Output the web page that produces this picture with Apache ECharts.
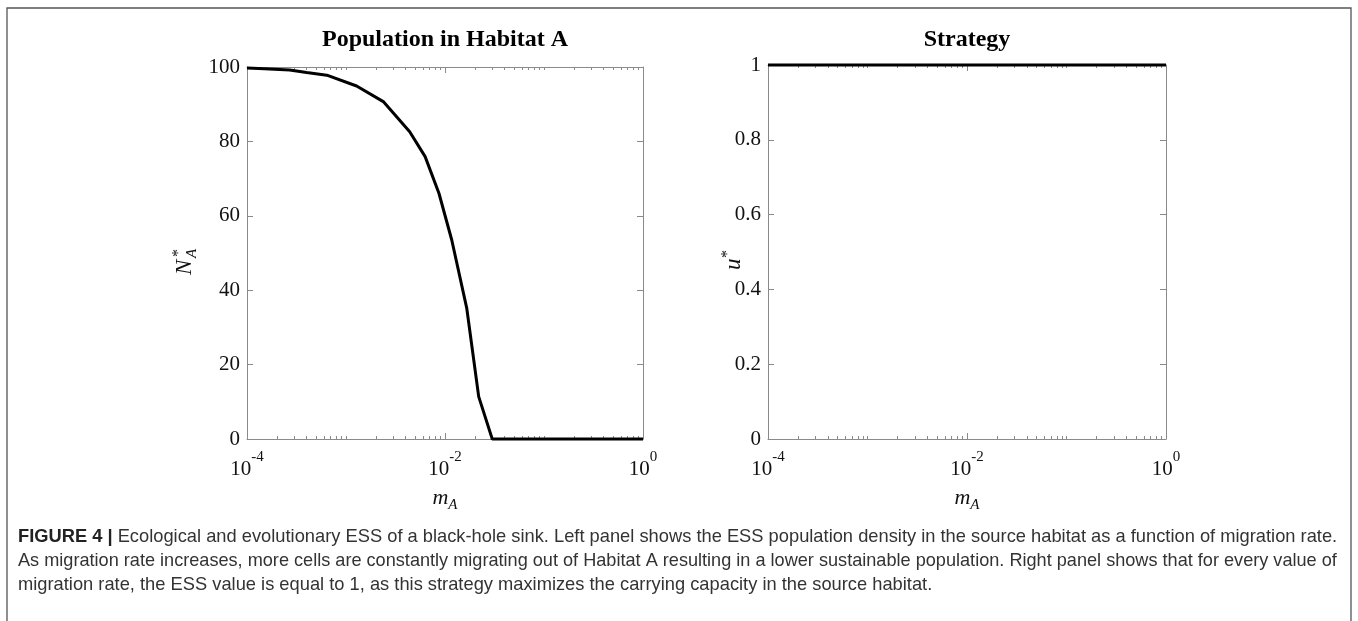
<!DOCTYPE html>
<html>
<head>
<meta charset="utf-8">
<script src="https://cdn.jsdelivr.net/npm/echarts@6/dist/echarts.min.js"></script>
<style>
html,body{margin:0;padding:0;background:#fff;}
#chart{width:1358px;height:621px;}
</style>
</head>
<body>
<div id="chart"></div>
<script>
// ---- data ----
var migrationRates = [0.0001, 0.00015, 0.00027, 0.0004, 0.00064, 0.00128, 0.00238, 0.0044, 0.0063, 0.0087, 0.0117, 0.0166, 0.0219, 0.030, 1];
var populationA   = [99.7, 99.5, 99.2, 98.5, 97.8, 94.9, 90.7, 82.6, 75.9, 66.0, 53.5, 35.1, 11.4, 0, 0];
var strategyRates = [0.0001, 1];
var strategyValues = [1, 1];
var xMajorTicks = [0.0001, 0.01, 1];
var xTickExponents = ['-4', '-2', '0'];
var xMinorTicks = [];
[0.0001, 0.001, 0.01, 0.1].forEach(function (d) { for (var k = 2; k <= 9; k++) xMinorTicks.push(d * k); });
xMinorTicks.push(0.001, 0.1);
var yTicksLeft = [0, 20, 40, 60, 80, 100];
var yTicksRight = [0, 0.2, 0.4, 0.6, 0.8, 1];
var panelTitles = ['Population in Habitat A', 'Strategy'];
var captionLines = [
  ' Ecological and evolutionary ESS of a black-hole sink. Left panel shows the ESS population density in the source habitat as a function of migration rate.',
  'As migration rate increases, more cells are constantly migrating out of Habitat A resulting in a lower sustainable population. Right panel shows that for every value of',
  'migration rate, the ESS value is equal to 1, as this strategy maximizes the carrying capacity in the source habitat.'
];

var SERIF = '"Liberation Serif", "Times New Roman", serif';
var CAPF = '"Liberation Sans", Arial, sans-serif';
var AX = '#8a8a8a';
var CAP_SIZE = 19;

function expLabel(v) {
  var i = xMajorTicks.findIndex(function (t) { return Math.abs(Math.log10(t) - Math.log10(v)) < 1e-6; });
  var e = i >= 0 ? xTickExponents[i] : String(Math.round(Math.log10(v)));
  return '{b|10}{s|' + e + '}';
}
var xRich = {
  b: { fontFamily: SERIF, fontSize: 21, color: '#111', lineHeight: 30, verticalAlign: 'bottom' },
  s: { fontFamily: SERIF, fontSize: 15, color: '#111', lineHeight: 15, verticalAlign: 'top' }
};

function xAxesFor(gi, min, max) {
  return [
    { gridIndex: gi, type: 'log', logBase: 10, min: min, max: max, position: 'bottom',
      axisLine: { show: true, lineStyle: { color: AX, width: 1 } },
      axisTick: { show: true, inside: true, length: 6, customValues: xMajorTicks, lineStyle: { color: AX } },
      axisLabel: { show: true, customValues: xMajorTicks, formatter: expLabel, rich: xRich, margin: 11 },
      splitLine: { show: false }, minorTick: { show: false },
      name: '{m|m}{a|A}', nameLocation: 'middle', nameGap: 48,
      nameTextStyle: { rich: {
        m: { fontFamily: SERIF, fontStyle: 'italic', fontSize: 22, color: '#111', lineHeight: 26, verticalAlign: 'top' },
        a: { fontFamily: SERIF, fontStyle: 'italic', fontSize: 15, color: '#111', lineHeight: 15, verticalAlign: 'bottom' } } }
    },
    { gridIndex: gi, type: 'log', logBase: 10, min: min, max: max, position: 'bottom',
      axisLine: { show: false },
      axisTick: { show: true, inside: true, length: 3, customValues: xMinorTicks, lineStyle: { color: AX } },
      axisLabel: { show: false }, splitLine: { show: false } },
    { gridIndex: gi, type: 'log', logBase: 10, min: min, max: max, position: 'top',
      axisLine: { show: true, lineStyle: { color: AX, width: 1 } },
      axisTick: { show: true, inside: true, length: 6, customValues: xMajorTicks, lineStyle: { color: AX } },
      axisLabel: { show: false }, splitLine: { show: false } },
    { gridIndex: gi, type: 'log', logBase: 10, min: min, max: max, position: 'top',
      axisLine: { show: false },
      axisTick: { show: true, inside: true, length: 3, customValues: xMinorTicks, lineStyle: { color: AX } },
      axisLabel: { show: false }, splitLine: { show: false } }
  ];
}
function yAxesFor(gi, ticks, fmt) {
  return [
    { gridIndex: gi, type: 'value', min: ticks[0], max: ticks[ticks.length - 1], interval: ticks[1] - ticks[0], position: 'left',
      axisLine: { show: true, lineStyle: { color: AX, width: 1 } },
      axisTick: { show: true, inside: true, length: 6, lineStyle: { color: AX } },
      axisLabel: { show: true, margin: 7, fontFamily: SERIF, fontSize: 21, color: '#111', formatter: fmt },
      splitLine: { show: false } },
    { gridIndex: gi, type: 'value', min: ticks[0], max: ticks[ticks.length - 1], interval: ticks[1] - ticks[0], position: 'right',
      axisLine: { show: true, lineStyle: { color: AX, width: 1 } },
      axisTick: { show: true, inside: true, length: 6, lineStyle: { color: AX } },
      axisLabel: { show: false }, splitLine: { show: false } }
  ];
}

function captionText(y, text, sx, rich) {
  var st = { text: text, verticalAlign: 'middle', font: CAP_SIZE + 'px ' + CAPF, fill: '#333' };
  if (rich) st.rich = rich;
  return { type: 'text', x: 18, y: y, scaleX: sx, style: st };
}

var chart = echarts.init(document.getElementById('chart'), null, { renderer: 'canvas' });
var option = {
  backgroundColor: '#fff',
  animation: false,
  grid: [
    { left: 247, top: 67, width: 396, height: 372 },
    { left: 768, top: 65, width: 398, height: 374 }
  ],
  xAxis: xAxesFor(0, 0.0001, 1).concat(xAxesFor(1, 0.0001, 1)),
  yAxis: yAxesFor(0, yTicksLeft, function (v) { return String(v); })
    .concat(yAxesFor(1, yTicksRight, function (v) { return String(Math.round(v * 10) / 10); })),
  series: [
    { type: 'line', xAxisIndex: 0, yAxisIndex: 0, data: migrationRates.map(function (m, i) { return [m, populationA[i]]; }),
      showSymbol: false, clip: false, lineStyle: { color: '#000', width: 3 } },
    { type: 'line', xAxisIndex: 4, yAxisIndex: 2, data: strategyRates.map(function (m, i) { return [m, strategyValues[i]]; }),
      showSymbol: false, clip: false, lineStyle: { color: '#000', width: 3 } }
  ],
  graphic: [
    { type: 'rect', shape: { x: 7, y: 8, width: 1344, height: 640 }, style: { fill: 'none', stroke: '#555', lineWidth: 1.3 }, silent: true },
    { type: 'text', x: 445, y: 40, style: { text: panelTitles[0], align: 'center', verticalAlign: 'middle', font: 'bold 24px ' + SERIF, fill: '#000' } },
    { type: 'text', x: 967, y: 40, style: { text: panelTitles[1], align: 'center', verticalAlign: 'middle', font: 'bold 24px ' + SERIF, fill: '#000' } },
    { type: 'group', x: 196, y: 275, rotation: Math.PI / 2, children: [
      { type: 'text', x: 0, y: 0, style: { text: 'N', font: 'italic 23px ' + SERIF, fill: '#111', verticalAlign: 'bottom', align: 'left' } },
      { type: 'text', x: 18, y: -9, style: { text: '*', font: '16px ' + SERIF, fill: '#111', verticalAlign: 'bottom', align: 'left' } },
      { type: 'text', x: 17, y: 4, style: { text: 'A', font: 'italic 15px ' + SERIF, fill: '#111', verticalAlign: 'bottom', align: 'left' } }
    ] },
    { type: 'group', x: 745, y: 270, rotation: Math.PI / 2, children: [
      { type: 'text', x: 0, y: 0, style: { text: 'u', font: 'italic 23px ' + SERIF, fill: '#111', verticalAlign: 'bottom', align: 'left' } },
      { type: 'text', x: 12, y: -9, style: { text: '*', font: '16px ' + SERIF, fill: '#111', verticalAlign: 'bottom', align: 'left' } }
    ] },
    captionText(537, '{b|FIGURE 4 |}' + captionLines[0], 0.963, { b: { fontFamily: CAPF, fontWeight: 'bold', fontSize: CAP_SIZE, fill: '#222' } }),
    captionText(561, captionLines[1], 0.954),
    captionText(585, captionLines[2], 0.963)
  ]
};
chart.setOption(option);
</script>
</body>
</html>
